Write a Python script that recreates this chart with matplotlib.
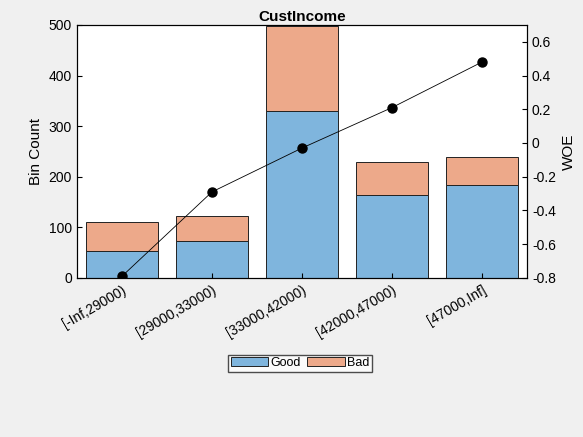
import matplotlib
matplotlib.use("Agg")
import matplotlib.pyplot as plt
import numpy as np

bins = ["[-Inf,29000)", "[29000,33000)", "[33000,42000)", "[42000,47000)", "[47000,Inf]"]
good = [53, 73, 329, 164, 183]
bad = [58, 49, 168, 66, 55]
woe = [-0.79, -0.29, -0.03, 0.21, 0.48]

plt.rcParams['font.family'] = ['Liberation Sans', 'DejaVu Sans']
fig = plt.figure(figsize=(5.83, 4.37), dpi=100, facecolor='#f0f0f0')
ax = fig.add_axes([0.132, 0.364, 0.772, 0.579])
x = np.arange(len(bins))
ax.bar(x, good, 0.8, color='#7fb5dd', edgecolor='#222222', linewidth=0.7, label='Good')
ax.bar(x, bad, 0.8, bottom=good, color='#eda98a', edgecolor='#222222', linewidth=0.7, label='Bad')
ax.set_xlim(-0.5, 4.5)
ax.set_ylim(0, 500)
ax.set_ylabel('Bin Count', fontsize=11)
ax.set_xticks(x)
ax.set_xticklabels(bins, rotation=30, ha='right', rotation_mode='anchor', fontsize=10)
ax.set_title('CustIncome', fontweight='bold', fontsize=11, pad=3)
ax.tick_params(direction='in', labelsize=10)
ax2 = ax.twinx()
ax2.plot(x, woe, 'k.-', markersize=13, linewidth=0.6)
ax2.set_ylim(-0.8, 0.7)
ax2.set_yticks(np.arange(-0.8, 0.61, 0.2))
ax2.set_yticklabels([f"{v:.1f}".replace('-0.0', '0').replace('0.0', '0') for v in np.arange(-0.8, 0.61, 0.2)])
ax2.set_ylabel('WOE', fontsize=11)
ax2.tick_params(direction='in', labelsize=10)
fig.legend(handles=ax.containers and [ax.patches[0], ax.patches[5]], labels=['Good', 'Bad'],
           loc='center', bbox_to_anchor=(0.515, 0.169), ncol=2, fontsize=9,
           frameon=True, fancybox=False, edgecolor='#222222', handlelength=3,
           handletextpad=0.2, columnspacing=0.5, borderpad=0.2)
fig.savefig('out.png', dpi=100, facecolor=fig.get_facecolor())
